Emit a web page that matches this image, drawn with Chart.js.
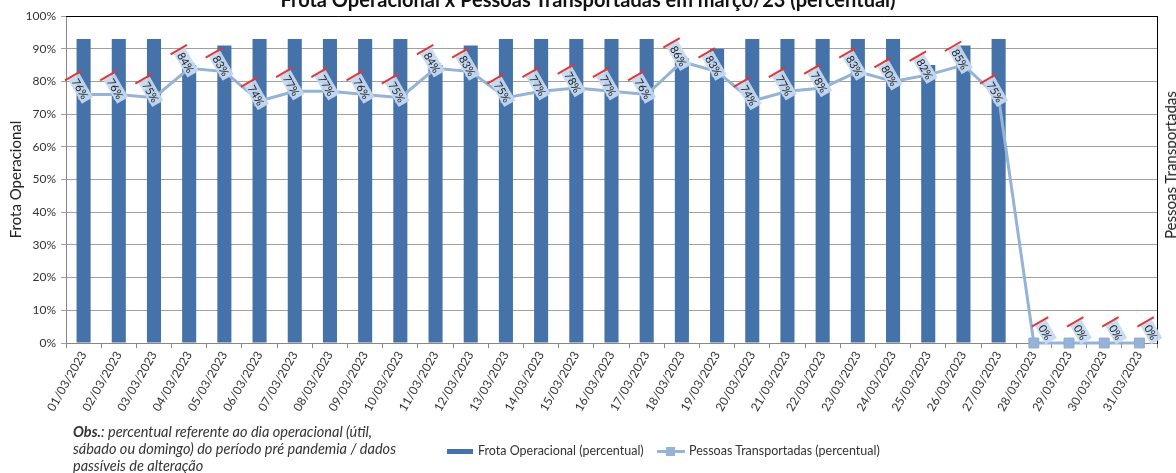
<!DOCTYPE html>
<html>
<head>
<meta charset="utf-8">
<script src="https://cdn.jsdelivr.net/npm/chart.js@4.4.0/dist/chart.umd.min.js"></script>
<style>
  body { margin: 0; background: #fff; }
  #wrap { position: relative; width: 1176px; height: 473px; overflow: hidden; font-family: Lato, "Noto Sans", sans-serif; color: #333; }
  #c { position: absolute; left: 0; top: 0; }
  .title { position: absolute; left: 0; width: 1176px; top: -12px; text-align: center; font-weight: bold; font-size: 20px; line-height: 22px; color: #111; }
  .rtitle { position: absolute; left: 1161px; top: 165px; transform-origin: 0 0; transform: rotate(-90deg) translate(-50%, 0); font-size: 15px; line-height: 18px; white-space: nowrap; color: #222; }
  .obs { position: absolute; left: 73px; top: 423px; font-style: italic; font-size: 14.5px; line-height: 17px; color: #333; white-space: nowrap; }
  .leg { position: absolute; top: 443px; font-size: 12.5px; line-height: 16px; color: #333; white-space: nowrap; }
  .sw-bar { position: absolute; left: 447px; top: 449px; width: 26px; height: 5px; background: #4672aa; }
  .sw-line { position: absolute; left: 657px; top: 450px; width: 28px; height: 3px; background: #95b3d7; }
  .sw-pt { position: absolute; left: 666px; top: 447px; width: 9px; height: 9px; background: #95b3d7; }
</style>
</head>
<body>
<div id="wrap">
  <canvas id="c" width="1176" height="473"></canvas>
  <div class="title">Frota Operacional x Pessoas Transportadas em março/23 (percentual)</div>
  <div class="rtitle">Pessoas Transportadas</div>
  <div class="obs"><b>Obs.</b>: percentual referente ao dia operacional (útil,<br>sábado ou domingo) do período pré pandemia / dados<br>passíveis de alteração</div>
  <div class="sw-bar"></div>
  <div class="leg" style="left:478px">Frota Operacional (percentual)</div>
  <div class="sw-line"></div><div class="sw-pt"></div>
  <div class="leg" style="left:689px">Pessoas Transportadas (percentual)</div>
</div>
<script>
const days = ['01/03/2023','02/03/2023','03/03/2023','04/03/2023','05/03/2023','06/03/2023','07/03/2023','08/03/2023',
  '09/03/2023','10/03/2023','11/03/2023','12/03/2023','13/03/2023','14/03/2023','15/03/2023','16/03/2023',
  '17/03/2023','18/03/2023','19/03/2023','20/03/2023','21/03/2023','22/03/2023','23/03/2023','24/03/2023',
  '25/03/2023','26/03/2023','27/03/2023','28/03/2023','29/03/2023','30/03/2023','31/03/2023'];

// Frota Operacional (percentual)
const frota = [93,93,93,85,91,93,93,93,93,93,85,91,93,93,93,93,93,87,90,93,93,93,93,93,85,91,93,0,0,0,0];

// Pessoas Transportadas (percentual)
const pessoas = [76,76,75,84,83,74,77,77,76,75,84,83,75,77,78,77,76,86,83,74,77,78,83,80,82,85,75,0,0,0,0];

const yTicks = [0,10,20,30,40,50,60,70,80,90,100];

const barColor = '#4672aa';
const lineColor = '#95b3d7';

// rotated boxed labels on the line points
const pointLabels = {
  id: 'pointLabels',
  afterDatasetsDraw(chart) {
    const ctx = chart.ctx;
    const meta = chart.getDatasetMeta(1);
    ctx.save();
    ctx.font = '11px Lato, "Noto Sans", sans-serif';
    meta.data.forEach((pt, i) => {
      const v = pessoas[i];
      const txt = v + '%';
      let cx = pt.x - 3, cy = pt.y - 6;
      if (v === 0) { cx = pt.x + 12; cy = pt.y - 11; }
      const w = ctx.measureText(txt).width + 6, h = 13;
      ctx.save();
      ctx.translate(cx, cy);
      ctx.rotate(Math.PI / 3);
      ctx.fillStyle = 'rgba(198,217,241,0.92)';
      ctx.fillRect(-w / 2, -h / 2, w, h);
      ctx.strokeStyle = '#e03838';
      ctx.lineWidth = 2;
      ctx.beginPath();
      ctx.moveTo(-w / 2 - 1, -h / 2 - 3);
      ctx.lineTo(-w / 2 - 1, h / 2 + 3);
      ctx.stroke();
      ctx.fillStyle = '#222';
      ctx.textAlign = 'center';
      ctx.textBaseline = 'middle';
      ctx.fillText(txt, 0, 1);
      ctx.restore();
    });
    ctx.restore();
  },
  beforeDatasetsDraw(chart) {
    // black top border of the plot
    const a = chart.chartArea, ctx = chart.ctx;
    ctx.save();
    ctx.strokeStyle = '#000';
    ctx.lineWidth = 1;
    ctx.beginPath();
    ctx.moveTo(a.left, a.top + 0.5);
    ctx.lineTo(a.right, a.top + 0.5);
    ctx.stroke();
    ctx.restore();
  }
};

new Chart(document.getElementById('c'), {
  data: {
    labels: days,
    datasets: [
      {
        type: 'bar',
        label: 'Frota Operacional (percentual)',
        data: frota,
        backgroundColor: barColor,
        barPercentage: 0.4,
        categoryPercentage: 1,
        order: 2,
        yAxisID: 'y'
      },
      {
        type: 'line',
        label: 'Pessoas Transportadas (percentual)',
        data: pessoas,
        borderColor: lineColor,
        backgroundColor: lineColor,
        borderWidth: 3,
        tension: 0,
        clip: false,
        pointStyle: 'rect',
        pointRadius: 7,
        pointBorderColor: '#8eaad0',
        pointBorderWidth: 1,
        order: 1,
        yAxisID: 'y'
      }
    ]
  },
  options: {
    responsive: false,
    animation: false,
    devicePixelRatio: 1,
    layout: { padding: { top: 16, left: 7, right: 0, bottom: 0 } },
    plugins: { legend: { display: false }, tooltip: { enabled: false } },
    scales: {
      x: {
        offset: true,
        grid: { offset: true, drawOnChartArea: false, drawTicks: true, tickLength: 5, color: '#888' },
        border: { color: '#888' },
        ticks: { minRotation: 60, maxRotation: 60, padding: 1, color: '#333', font: { family: 'Lato', size: 12 } },
        afterFit(s) { s.height = 130; }
      },
      y: {
        min: 0, max: 100,
        afterBuildTicks(s) { s.ticks = yTicks.map(v => ({ value: v })); },
        ticks: { callback: v => v + '%', color: '#333', padding: 5, font: { family: 'Lato', size: 12 } },
        grid: { color: '#a0a0a0', tickLength: 5 },
        border: { color: '#888' },
        title: { display: true, text: 'Frota Operacional', color: '#222', font: { family: 'Lato', size: 15 }, padding: { top: 0, bottom: 0 } },
        afterFit(s) { s.width = 59; }
      },
      y2: {
        position: 'right',
        min: 0, max: 100,
        ticks: { display: false },
        grid: { drawOnChartArea: false, drawTicks: false },
        border: { color: '#000' },
        afterFit(s) { s.width = 19; }
      }
    }
  },
  plugins: [pointLabels]
});
</script>
</body>
</html>
